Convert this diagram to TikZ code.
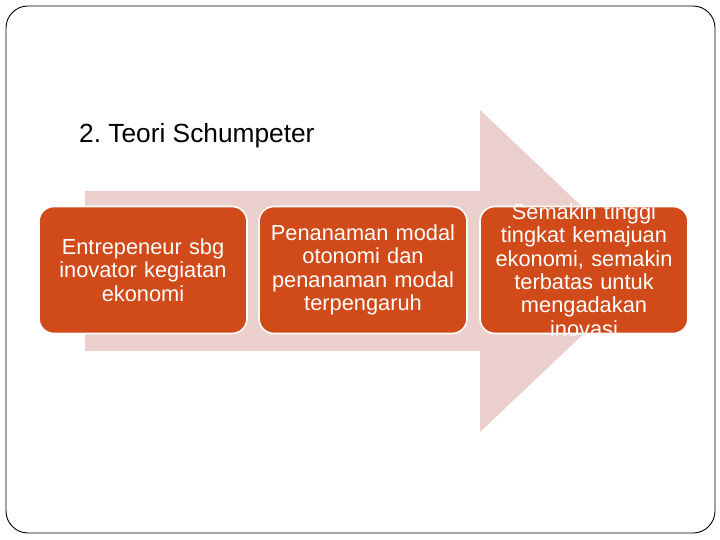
\documentclass[tikz,border=0pt]{standalone}
\usepackage{fontspec}
\setmainfont{Liberation Sans}
\frenchspacing
\definecolor{boxfill}{RGB}{208,74,26}
\definecolor{arrowfill}{RGB}{235,207,205}
\tikzset{
  stagebox/.style={draw=white, line width=1.6pt, fill=boxfill, rounded corners=15pt,
    minimum width=208pt, minimum height=127pt, inner sep=0pt},
  stagetext/.style={text=white, align=center, text width=204pt,
    font=\fontsize{21.8}{23.3}\selectfont},
}
\begin{document}
\begin{tikzpicture}[x=1pt,y=-1pt]
\useasboundingbox (0,0) rectangle (720,540);
% frame
\draw[line width=0.9pt, rounded corners=22pt] (6,6) rectangle (715,533);
% big arrow
\fill[arrowfill] (85,191) -- (480,191) -- (480,110) -- (650,271) -- (480,432) -- (480,351) -- (85,351) -- cycle;
% title
\node[anchor=base west, font=\fontsize{26.3}{30}\selectfont, inner sep=0pt] (title) at (79,143) {2. Teori Schumpeter};
% boxes
\node[stagebox] (b1) at (143,270) {};
\node[stagebox] (b2) at (363,270) {};
\node[stagebox] (b3) at (584,270) {};
\node[stagetext] (t1) at (b1.center) {Entrepeneur sbg\\inovator kegiatan\\ekonomi};
\node[stagetext] (t2) at (b2.center) {Penanaman modal\\otonomi dan\\penanaman modal\\terpengaruh};
\begin{scope}
\clip (470,203) rectangle (700,338);
\node[stagetext] (t3) at (584,270) {Semakin tinggi\\tingkat kemajuan\\ekonomi, semakin\\terbatas untuk\\mengadakan\\inovasi};
\end{scope}
\end{tikzpicture}
\end{document}
